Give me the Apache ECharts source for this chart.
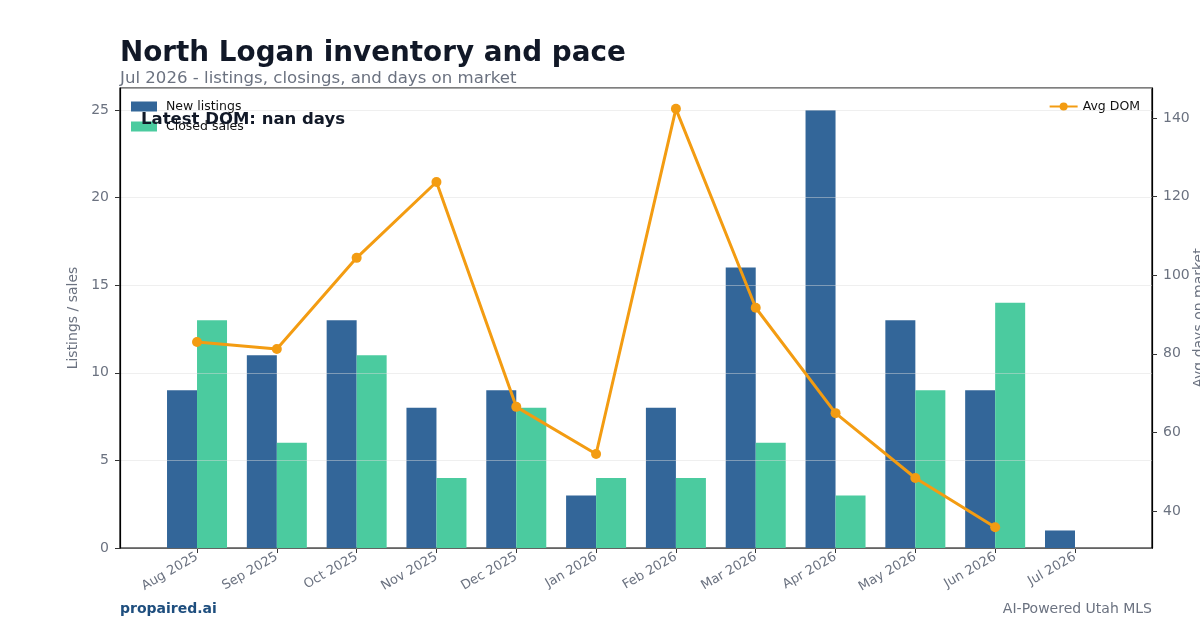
<!DOCTYPE html>
<html>
<head>
    <meta charset="utf-8">
    <title>North Logan inventory and pace</title>
    <script src="https://cdn.jsdelivr.net/npm/echarts@6/dist/echarts.min.js"></script>
    <style>
        html,body{
            height: 100%;
            margin: 0;
            padding: 0;
            background: #fff;
        }
    </style>
</head>
<body>
    <div id="main" style="width: 1200px;height:630px;"></div>
    <script type="text/javascript">
    // data
    var months = ['Aug 2025','Sep 2025','Oct 2025','Nov 2025','Dec 2025','Jan 2026','Feb 2026','Mar 2026','Apr 2026','May 2026','Jun 2026','Jul 2026'];
    var newListings = [9, 11, 13, 8, 9, 3, 8, 16, 25, 13, 9, 1];
    var closedSales = [13, 6, 11, 4, 8, 4, 4, 6, 3, 9, 14, null];
    var avgDom = [83, 81.2, 104.4, 123.7, 66.5, 54.5, 142.3, 91.7, 64.9, 48.4, 35.9, null];
    var leftTicks = [0, 5, 10, 15, 20, 25];
    var rightTicks = [40, 60, 80, 100, 120, 140];

    var font = 'DejaVu Sans';
    var gray = '#6b7280';

    var idx = months.map(function(m, i){ return i; });
    function pairs(arr){
        return arr.map(function(v, i){ return [i, v]; });
    }

    var myChart = echarts.init(document.getElementById('main'));

    var option = {
        animation: false,
        backgroundColor: '#fff',
        textStyle: { fontFamily: font },
        title: [
            {
                text: 'North Logan inventory and pace',
                left: 115, top: 35,
                textStyle: { fontFamily: font, fontSize: 27.8, fontWeight: 'bold', color: '#111827' }
            },
            {
                text: 'Jul 2026 - listings, closings, and days on market',
                left: 115, top: 65,
                textStyle: { fontFamily: font, fontSize: 16.6, fontWeight: 'normal', color: gray }
            }
        ],
        legend: [
            {
                data: ['New listings', 'Closed sales'],
                orient: 'vertical',
                left: 126, top: 95,
                icon: 'rect',
                itemWidth: 26, itemHeight: 10, itemGap: 7,
                textStyle: { fontFamily: font, fontSize: 12.5, color: '#111', padding: [0, 0, 0, 4] }
            },
            {
                data: ['Avg DOM'],
                right: 55, top: 95,
                itemWidth: 28, itemHeight: 10,
                textStyle: { fontFamily: font, fontSize: 12.5, color: '#111' }
            }
        ],
        grid: {
            left: 120, right: 48, top: 88, bottom: 82,
            outerBoundsMode: 'none',
            containLabel: false,
            show: true, borderColor: '#000', borderWidth: 1.2
        },
        xAxis: {
            type: 'value',
            min: -0.965, max: 11.965,
            splitLine: { show: false },
            axisLine: { show: true, onZero: false, lineStyle: { color: '#000', width: 1.2 } },
            axisTick: { show: true, customValues: idx, length: 5, lineStyle: { color: '#333' } },
            axisLabel: {
                customValues: idx,
                rotate: 30,
                fontFamily: font, fontSize: 13, color: gray, margin: 8,
                formatter: function(v){ return months[Math.round(v)]; }
            }
        },
        yAxis: [
            {
                type: 'value',
                min: 0, max: 26.25, interval: 5,
                z: 3,
                name: 'Listings / sales',
                nameLocation: 'middle', nameGap: 40,
                nameMoveOverlap: false,
                nameTextStyle: { fontFamily: font, fontSize: 14, color: gray },
                axisLine: { show: true, onZero: false, lineStyle: { color: '#000', width: 1.2 } },
                axisTick: { show: true, length: 5, lineStyle: { color: '#333' } },
                axisLabel: { fontFamily: font, fontSize: 14, color: gray, showMaxLabel: false, margin: 11 },
                splitLine: { show: true, lineStyle: { color: 'rgba(220,220,220,0.45)', width: 1 } }
            },
            {
                type: 'value',
                min: 30.6, max: 147.6,
                name: 'Avg days on market',
                nameLocation: 'middle', nameGap: 40, nameRotate: 90,
                nameMoveOverlap: false,
                nameTextStyle: { fontFamily: font, fontSize: 14, color: gray },
                axisLine: { show: true, onZero: false, lineStyle: { color: '#000', width: 1.2 } },
                axisTick: { show: true, customValues: rightTicks, length: 5, lineStyle: { color: '#333' } },
                axisLabel: { customValues: rightTicks, fontFamily: font, fontSize: 14, color: gray, margin: 11 },
                splitLine: { show: false }
            }
        ],
        series: [
            {
                name: 'New listings',
                type: 'bar',
                barWidth: 30, barGap: '0%',
                itemStyle: { color: '#336699' },
                data: pairs(newListings)
            },
            {
                name: 'Closed sales',
                type: 'bar',
                barWidth: 30, barGap: '0%',
                itemStyle: { color: '#4bcb9f' },
                data: pairs(closedSales)
            },
            {
                name: 'Avg DOM',
                type: 'line',
                yAxisIndex: 1,
                z: 5,
                symbol: 'circle', symbolSize: 10,
                lineStyle: { color: '#f39c12', width: 3 },
                itemStyle: { color: '#f39c12' },
                data: pairs(avgDom)
            }
        ],
        graphic: [
            {
                type: 'text', left: 141, top: 111, z: 10,
                style: { text: 'Latest DOM: nan days', font: 'bold 16.5px "DejaVu Sans"', fill: '#111827' }
            },
            {
                type: 'text', left: 120, top: 602,
                style: { text: 'propaired.ai', font: 'bold 14px "DejaVu Sans"', fill: '#1e4e7e' }
            },
            {
                type: 'text', right: 48, top: 602,
                style: { text: 'AI-Powered Utah MLS', font: '14px "DejaVu Sans"', fill: gray }
            }
        ]
    };

    myChart.setOption(option);
    </script>
</body>
</html>
